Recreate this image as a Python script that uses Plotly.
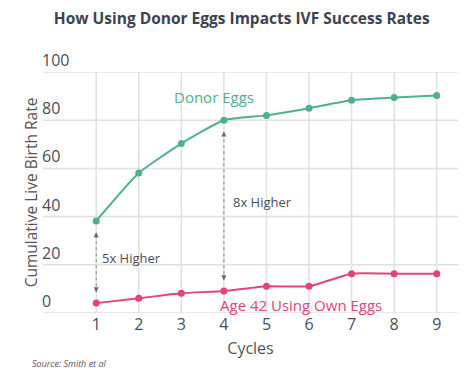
import plotly.graph_objects as go

cycles = [1, 2, 3, 4, 5, 6, 7, 8, 9]
donor_eggs = [38.2, 58.1, 70.3, 80.0, 82.0, 85.0, 88.3, 89.4, 90.2]
own_eggs = [4.1, 6.1, 8.2, 9.1, 11.1, 11.1, 16.3, 16.3, 16.3]
y_ticks = [0, 20, 40, 60, 80, 100]

TEAL = "#4fb08f"
PINK = "#e2447a"
DARK = "#4a4d57"
GRID = "#e0e0e0"

L, R, T, B, W, H = 43, 16, 72, 60, 474, 373
PH = H - T - B
PW = W - L - R

fig = go.Figure()

# gridlines drawn as shapes, positioned through the axes
for c in cycles:
    fig.add_shape(type="line", xref="x", yref="paper", x0=c, x1=c, y0=0, y1=1,
                  line=dict(color=GRID, width=1.5), layer="below")
for v in y_ticks:
    fig.add_shape(type="line", xref="paper", yref="y", x0=0, x1=1, y0=v, y1=v,
                  line=dict(color=GRID, width=1.5), layer="below")

fig.add_trace(go.Scatter(x=cycles, y=donor_eggs, mode="lines+markers",
                         line=dict(color=TEAL, width=2, shape="spline", smoothing=0.5),
                         marker=dict(color=TEAL, size=7), name="Donor Eggs",
                         showlegend=False))
fig.add_trace(go.Scatter(x=cycles, y=own_eggs, mode="lines+markers",
                         line=dict(color=PINK, width=2, shape="spline", smoothing=0.5),
                         marker=dict(color=PINK, size=7), name="Age 42 Using Own Eggs",
                         showlegend=False))

# dotted double-headed arrows between series
for i in (0, 3):
    x = cycles[i]
    top = donor_eggs[i] - 4.7
    bot = own_eggs[i] + 4.5
    fig.add_trace(go.Scatter(x=[x, x], y=[bot, top], mode="lines",
                             line=dict(color="#8a8a8a", width=1, dash="dot"),
                             showlegend=False, hoverinfo="skip"))
    fig.add_annotation(x=x, y=top, ax=x, ay=top - 1.5, xref="x", yref="y",
                       axref="x", ayref="y", text="", showarrow=True,
                       arrowhead=2, arrowsize=1, arrowwidth=1, arrowcolor="#666666")
    fig.add_annotation(x=x, y=bot, ax=x, ay=bot + 1.5, xref="x", yref="y",
                       axref="x", ayref="y", text="", showarrow=True,
                       arrowhead=2, arrowsize=1, arrowwidth=1, arrowcolor="#666666")

fig.add_annotation(x=1.09, y=22.7, xref="x", yref="y", text="5x Higher",
                   showarrow=False, xanchor="left",
                   font=dict(family="Open Sans", size=13, color=DARK))
fig.add_annotation(x=4.17, y=46, xref="x", yref="y", text="8x Higher",
                   showarrow=False, xanchor="left",
                   font=dict(family="Open Sans", size=13, color=DARK))
fig.add_annotation(x=2.78, y=89.5, xref="x", yref="y", text="Donor Eggs",
                   showarrow=False, xanchor="left",
                   font=dict(family="Open Sans", size=15, color=TEAL))
fig.add_annotation(x=3.86, y=3.2, xref="x", yref="y", text="Age 42 Using Own Eggs",
                   showarrow=False, xanchor="left",
                   font=dict(family="Open Sans", size=15, color=PINK))
fig.add_annotation(x=(30 - L) / PW, y=(H - B - 363) / PH, xref="paper", yref="paper",
                   text="<i>Source: Smith et al</i>",
                   showarrow=False, xanchor="left", yanchor="middle",
                   font=dict(family="Open Sans", size=9, color="#555555"))

# y tick labels sitting above their gridlines, inside the plot
for v in y_ticks:
    fig.add_annotation(x=0, y=v, xref="paper", yref="y", text=str(v),
                       showarrow=False, xanchor="left", yanchor="bottom",
                       xshift=-3, yshift=-1,
                       font=dict(family="Open Sans", size=16, color=DARK))

fig.update_layout(
    template="none",
    width=W, height=H,
    margin=dict(l=L, r=R, t=T, b=B),
    paper_bgcolor="white", plot_bgcolor="white",
    title=dict(text="<b>How Using Donor Eggs Impacts IVF Success Rates</b>",
               x=0.51, xanchor="center", y=0.95, yanchor="middle",
               font=dict(family="Open Sans", size=15.5, color="#3d4250")),
    font=dict(family="Open Sans", color=DARK),
    xaxis=dict(range=[-0.25, 9.5], tickmode="array", tickvals=cycles, showgrid=False,
               zeroline=False, showline=False, ticks="", automargin=False,
               tickfont=dict(size=16, color=DARK),
               title=dict(text="Cycles", font=dict(size=16, color="#555555"), standoff=8)),
    yaxis=dict(range=[0, 100], tickmode="array", tickvals=y_ticks, showgrid=False,
               zeroline=False, showline=False, ticks="", automargin=False,
               showticklabels=False,
               title=dict(text="Cumulative Live Birth Rate",
                          font=dict(size=15.5, color="#555555"), standoff=0)),
)

fig.write_html("out.html", config={"displayModeBar": False},
               post_script="document.body.style.margin='0';document.body.style.padding='0';")
